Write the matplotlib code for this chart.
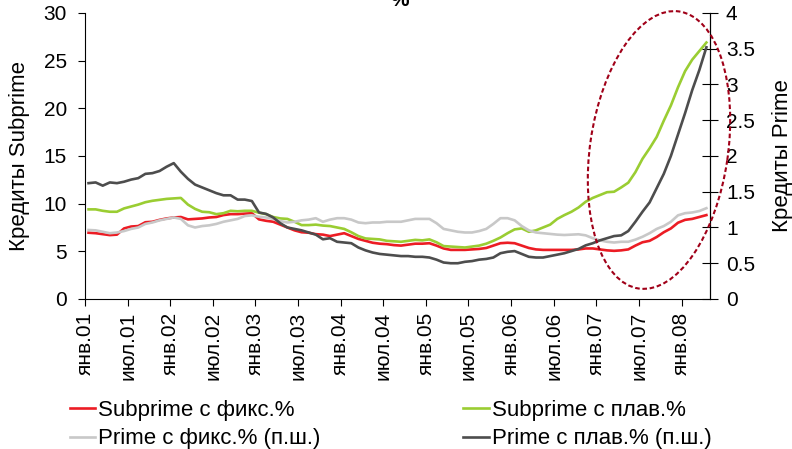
# %% Кредиты Subprime / Prime: просрочка по типу ставки
import matplotlib.pyplot as plt
from matplotlib.patches import Ellipse
from matplotlib.ticker import FormatStrFormatter
import numpy as np

plt.rcParams['font.family'] = ['Liberation Sans', 'DejaVu Sans']

# %% Data (monthly, Jan 2001 - Apr 2008)
tick_labels = ['янв.01', 'июл.01', 'янв.02', 'июл.02', 'янв.03', 'июл.03',
               'янв.04', 'июл.04', 'янв.05', 'июл.05', 'янв.06', 'июл.06',
               'янв.07', 'июл.07', 'янв.08']

# left axis
subprime_fix = [6.95, 6.9, 6.8, 6.7, 6.75, 7.4, 7.6, 7.65, 8.05, 8.1,
                8.3, 8.45, 8.55, 8.6, 8.35, 8.4, 8.45, 8.55, 8.6, 8.8,
                8.9, 8.9, 8.95, 9.0, 8.35, 8.2, 8.1, 7.8, 7.5, 7.2,
                7.0, 6.95, 6.8, 6.75, 6.6, 6.75, 6.9, 6.6, 6.3, 6.1,
                5.9, 5.8, 5.75, 5.65, 5.6, 5.7, 5.8, 5.8, 5.85, 5.6,
                5.3, 5.15, 5.15, 5.15, 5.2, 5.25, 5.35, 5.6, 5.85, 5.9,
                5.85, 5.6, 5.35, 5.2, 5.15, 5.15, 5.15, 5.15, 5.15, 5.2,
                5.3, 5.3, 5.2, 5.1, 5.05, 5.1, 5.2, 5.6, 5.95, 6.1,
                6.5, 7.0, 7.4, 8.0, 8.3, 8.4, 8.6, 8.8]
subprime_flt = [9.4, 9.4, 9.25, 9.15, 9.15, 9.5, 9.7, 9.9, 10.15, 10.3,
                10.4, 10.5, 10.55, 10.6, 9.9, 9.45, 9.15, 9.1, 8.9, 9.0,
                9.25, 9.2, 9.25, 9.25, 9.05, 8.9, 8.6, 8.45, 8.4, 8.1,
                7.75, 7.75, 7.8, 7.7, 7.65, 7.5, 7.35, 7.0, 6.6, 6.35,
                6.3, 6.25, 6.1, 6.05, 6.0, 6.1, 6.2, 6.15, 6.25, 5.95,
                5.55, 5.5, 5.45, 5.4, 5.5, 5.6, 5.8, 6.1, 6.45, 6.9,
                7.3, 7.4, 7.05, 7.2, 7.5, 7.8, 8.4, 8.8, 9.15, 9.6,
                10.2, 10.6, 10.9, 11.2, 11.25, 11.7, 12.2, 13.3, 14.7, 15.8,
                17.0, 18.7, 20.3, 22.2, 23.9, 25.1, 26.0, 26.9]
# right axis (п.ш.)
prime_fix = [0.965, 0.96, 0.94, 0.92, 0.93, 0.95, 0.98, 1.0, 1.05, 1.07,
             1.1, 1.12, 1.14, 1.12, 1.03, 1.0, 1.02, 1.03, 1.05, 1.08,
             1.1, 1.12, 1.16, 1.17, 1.15, 1.14, 1.12, 1.09, 1.07, 1.08,
             1.1, 1.11, 1.13, 1.08, 1.11, 1.13, 1.13, 1.11, 1.07, 1.06,
             1.07, 1.07, 1.08, 1.08, 1.08, 1.1, 1.12, 1.12, 1.12, 1.06,
             0.98, 0.96, 0.94, 0.93, 0.93, 0.95, 0.98, 1.05, 1.13, 1.13,
             1.1, 1.02, 0.96, 0.93, 0.92, 0.91, 0.9, 0.895, 0.9, 0.905,
             0.89, 0.85, 0.82, 0.8, 0.79, 0.8, 0.8, 0.83, 0.87, 0.92,
             0.98, 1.02, 1.08, 1.17, 1.2, 1.21, 1.23, 1.27]
prime_flt = [1.62, 1.63, 1.585, 1.63, 1.62, 1.64, 1.67, 1.69, 1.75, 1.76,
             1.79, 1.85, 1.90, 1.78, 1.68, 1.60, 1.56, 1.52, 1.48, 1.45,
             1.45, 1.39, 1.39, 1.37, 1.21, 1.19, 1.14, 1.06, 1.0, 0.98,
             0.96, 0.93, 0.90, 0.835, 0.85, 0.80, 0.79, 0.78, 0.72, 0.68,
             0.65, 0.63, 0.62, 0.61, 0.60, 0.60, 0.59, 0.59, 0.58, 0.55,
             0.51, 0.50, 0.50, 0.52, 0.53, 0.55, 0.56, 0.58, 0.64, 0.66,
             0.67, 0.63, 0.59, 0.58, 0.58, 0.60, 0.62, 0.64, 0.67, 0.70,
             0.75, 0.78, 0.82, 0.85, 0.88, 0.89, 0.95, 1.08, 1.22, 1.35,
             1.55, 1.75, 2.0, 2.3, 2.6, 2.92, 3.2, 3.52]

# %% Colors / sizes
red = '#ec1c24'
green = '#9acd32'
lgray = '#c8c8c8'
dgray = '#4d4d4d'
fsize = 15
lw = 1.9

n = len(subprime_fix)
x = np.arange(n) + 0.5

fig = plt.figure(figsize=(7.92, 4.49), dpi=100)
ax = fig.add_axes([0.1073, 0.3341, 0.7891, 0.6370])
ax2 = ax.twinx()

l1, = ax.plot(x, subprime_fix, color=red, lw=lw, label='Subprime с фикс.%')
l2, = ax.plot(x, subprime_flt, color=green, lw=lw, label='Subprime с плав.%')
l3, = ax2.plot(x, prime_fix, color=lgray, lw=lw, label='Prime с фикс.% (п.ш.)')
l4, = ax2.plot(x, prime_flt, color=dgray, lw=lw, label='Prime с плав.% (п.ш.)')

ax.set_xlim(0, n)
ax.set_ylim(0, 30)
ax2.set_ylim(0, 4)
ax.set_yticks(np.arange(0, 31, 5))
ax2.set_yticks(np.arange(0, 4.01, 0.5))
ax2.yaxis.set_major_formatter(FormatStrFormatter('%g'))
ax.set_xticks(np.arange(0, n, 6))
ax.set_xticklabels(tick_labels, rotation=90)

for s in ['top']:
    ax.spines[s].set_visible(False)
    ax2.spines[s].set_visible(False)
ax2.spines['left'].set_visible(False)
ax2.spines['bottom'].set_visible(False)

ax.tick_params(axis='y', direction='out', length=5, labelsize=fsize, pad=8)
ax.tick_params(axis='x', direction='out', length=5, labelsize=fsize, pad=4)
ax2.tick_params(axis='y', direction='inout', length=11, labelsize=fsize, pad=6)

ax.set_ylabel('Кредиты Subprime', fontsize=16, labelpad=10)
ax2.set_ylabel('Кредиты Prime', fontsize=16, labelpad=12)

# title (cut off at the top in the original)
fig.text(0.505, 1 - 6 / 449, '%', ha='center', va='baseline',
         fontsize=15, fontweight='bold')

# highlight the 2007-2008 surge
ell = Ellipse((6.59, 2.99), width=2.80, height=1.38, angle=81.7,
              transform=fig.dpi_scale_trans, fill=False,
              edgecolor='#a00018', lw=1.5, linestyle=(0, (2.2, 1.3)))
fig.add_artist(ell)

fig.legend(handles=[l1, l3, l2, l4], ncol=2, loc='upper left',
           bbox_to_anchor=(0.085, 0.115), frameon=False,
           fontsize=16, handlelength=1.15, handletextpad=0.15,
           labelspacing=0.35, columnspacing=6.4, borderpad=0.1,
           borderaxespad=0)

fig.savefig('out.png', dpi=100)
